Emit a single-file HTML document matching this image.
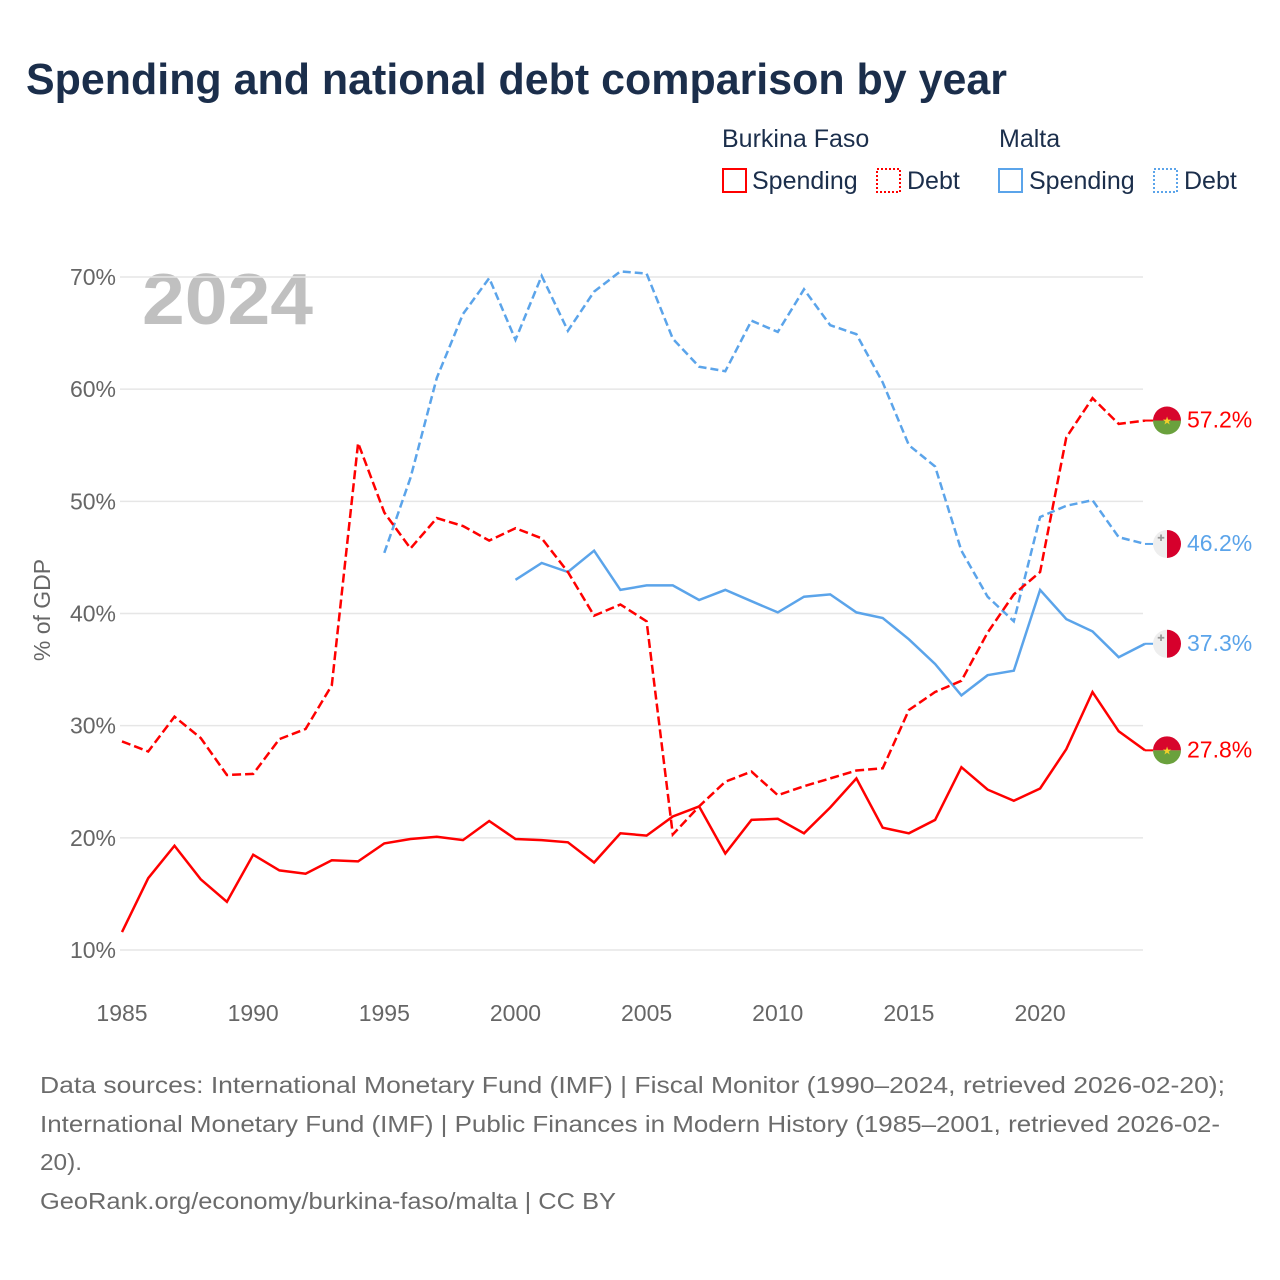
<!DOCTYPE html>
<html><head><meta charset="utf-8"><style>
body{margin:0;background:#fff;font-family:"Liberation Sans",sans-serif;}
#wrap{position:relative;width:1280px;height:1280px;overflow:hidden;}
</style></head><body>
<div id="wrap">
<svg id="chart" width="1280" height="1280" xmlns="http://www.w3.org/2000/svg">
<text x="26" y="94" font-size="44" font-weight="bold" fill="#1b2e4b" textLength="981" lengthAdjust="spacingAndGlyphs">Spending and national debt comparison by year</text>
<g font-size="25" fill="#1b2e4b">
<text x="722" y="147">Burkina Faso</text>
<text x="999" y="147">Malta</text>
<g><rect x="723" y="169" width="23" height="23" fill="none" stroke="#ff0000" stroke-width="2"/><text x="752" y="189">Spending</text></g>
<g><rect x="877" y="169" width="23" height="23" fill="none" stroke="#ff0000" stroke-width="2" stroke-dasharray="2,2"/><text x="907" y="189">Debt</text></g>
<g><rect x="999" y="169" width="23" height="23" fill="none" stroke="#5ba4ea" stroke-width="2"/><text x="1029" y="189">Spending</text></g>
<g><rect x="1154" y="169" width="23" height="23" fill="none" stroke="#5ba4ea" stroke-width="2" stroke-dasharray="2,2"/><text x="1184" y="189">Debt</text></g>
</g>
<text x="142" y="324" font-size="72" font-weight="bold" fill="#c0c0c0" textLength="171" lengthAdjust="spacingAndGlyphs">2024</text>
<text transform="translate(50,610) rotate(-90)" text-anchor="middle" font-size="23" fill="#666">% of GDP</text>
<g id="grid"></g><g id="series"></g><g id="ends"></g>
<g font-size="23" fill="#6b6b6b" lengthAdjust="spacingAndGlyphs">
<text x="40" y="1093" textLength="1185" lengthAdjust="spacingAndGlyphs">Data sources: International Monetary Fund (IMF) | Fiscal Monitor (1990–2024, retrieved 2026-02-20);</text>
<text x="40" y="1132" textLength="1180" lengthAdjust="spacingAndGlyphs">International Monetary Fund (IMF) | Public Finances in Modern History (1985–2001, retrieved 2026-02-</text>
<text x="40" y="1170" textLength="42" lengthAdjust="spacingAndGlyphs">20).</text>
<text x="40" y="1209" textLength="576" lengthAdjust="spacingAndGlyphs">GeoRank.org/economy/burkina-faso/malta | CC BY</text>
</g>
</svg>
</div>
<script>
const yTicks=[10,20,30,40,50,60,70];
const xTicks=[1985,1990,1995,2000,2005,2010,2015,2020];
const bfSpendStart=1985;
const bfSpending=[11.6,16.4,19.3,16.3,14.3,18.5,17.1,16.8,18.0,17.9,19.5,19.9,20.1,19.8,21.5,19.9,19.8,19.6,17.8,20.4,20.2,21.9,22.8,18.6,21.6,21.7,20.4,22.7,25.3,20.9,20.4,21.6,26.3,24.3,23.3,24.4,27.9,33.0,29.5,27.8];
const bfDebtStart=1985;
const bfDebt=[28.6,27.7,30.8,28.9,25.6,25.7,28.8,29.7,33.6,55.2,49.0,45.8,48.5,47.8,46.5,47.6,46.7,43.7,39.8,40.8,39.3,20.3,22.8,25.0,25.9,23.8,24.6,25.3,26.0,26.2,31.4,33.0,34.0,38.3,41.7,43.7,55.7,59.2,56.9,57.2];
const mtDebtStart=1995;
const mtDebt=[45.4,52.1,61.0,66.7,69.9,64.4,70.1,65.2,68.7,70.5,70.3,64.5,62.0,61.6,66.1,65.1,68.9,65.7,64.9,60.6,55.0,53.1,45.6,41.5,39.3,48.6,49.6,50.1,46.8,46.2];
const mtSpendStart=2000;
const mtSpending=[43.0,44.5,43.7,45.6,42.1,42.5,42.5,41.2,42.1,41.1,40.1,41.5,41.7,40.1,39.6,37.7,35.5,32.7,34.5,34.9,42.1,39.5,38.4,36.1,37.3];

const NS="http://www.w3.org/2000/svg";
const X=y=>122+(y-1985)*26.23;
const Y=v=>950-(v-10)*11.217;
function mk(t,a,p){const e=document.createElementNS(NS,t);for(const k in a)e.setAttribute(k,a[k]);p.appendChild(e);return e;}
const grid=document.getElementById('grid');
yTicks.forEach(v=>{
  const l=mk('line',{x1:120,x2:1143,y1:Y(v),y2:Y(v),stroke:'#e6e6e6','stroke-width':1.5},grid);
  
  
  const t=mk('text',{x:116,y:Y(v)+8,'text-anchor':'end','font-size':23,fill:'#666'},grid);
  t.textContent=v+'%';
  
  
});
xTicks.forEach(y=>{
  const t=mk('text',{x:X(y),y:1021,'text-anchor':'middle','font-size':23,fill:'#666'},grid);
  t.textContent=y;
  
  
});
const ser=document.getElementById('series');
function line(start,vals,color,dash,name){
  const d=vals.map((v,i)=>(i?'L':'M')+X(start+i).toFixed(1)+','+Y(v).toFixed(1)).join('');
  const p=mk('path',{d:d,fill:'none',stroke:color,'stroke-width':2.5,'stroke-linejoin':'miter','stroke-dasharray':dash||'none'},ser);
  
  
}
line(mtDebtStart,mtDebt,'#5ba4ea','8,4','line-malta-debt');
line(mtSpendStart,mtSpending,'#5ba4ea',null,'line-malta-spending');
line(bfDebtStart,bfDebt,'#ff0000','9,4','line-burkina-debt');
line(bfSpendStart,bfSpending,'#ff0000',null,'line-burkina-spending');
const ends=document.getElementById('ends');
function endLabel(start,vals,color,flag,name){
  const v=vals[vals.length-1],y=Y(v),x=1167;
  const g=mk('g',{},ends);
  
  
  mk('line',{x1:X(start+vals.length-1),x2:x-14,y1:y,y2:y,stroke:color,'stroke-width':2},g);
  if(flag==='bf'){
    mk('path',{d:`M${x-14},${y}A14,14 0 0 1 ${x+14},${y}Z`,fill:'#d7062c'},g);
    mk('path',{d:`M${x-14},${y}A14,14 0 0 0 ${x+14},${y}Z`,fill:'#6aa13d'},g);
    const s=mk('text',{x:x,y:y+4,'text-anchor':'middle','font-size':11,fill:'#f3d02a'},g);s.textContent='★';
  }else{
    mk('path',{d:`M${x},${y-14}A14,14 0 0 0 ${x},${y+14}Z`,fill:'#eeeeee'},g);
    mk('path',{d:`M${x},${y-14}A14,14 0 0 1 ${x},${y+14}Z`,fill:'#d6002c'},g);
    const s=mk('text',{x:x-6,y:y-3,'text-anchor':'middle','font-size':9,fill:'#999'},g);s.textContent='✚';
  }
  const t=mk('text',{x:1187,y:y+7,'font-size':23,fill:color},g);
  t.textContent=v.toFixed(1)+'%';
}
endLabel(bfDebtStart,bfDebt,'#ff0000','bf','end-label-burkina-debt');
endLabel(mtDebtStart,mtDebt,'#5ba4ea','mt','end-label-malta-debt');
endLabel(mtSpendStart,mtSpending,'#5ba4ea','mt','end-label-malta-spending');
endLabel(bfSpendStart,bfSpending,'#ff0000','bf','end-label-burkina-spending');
</script>
</body></html>
